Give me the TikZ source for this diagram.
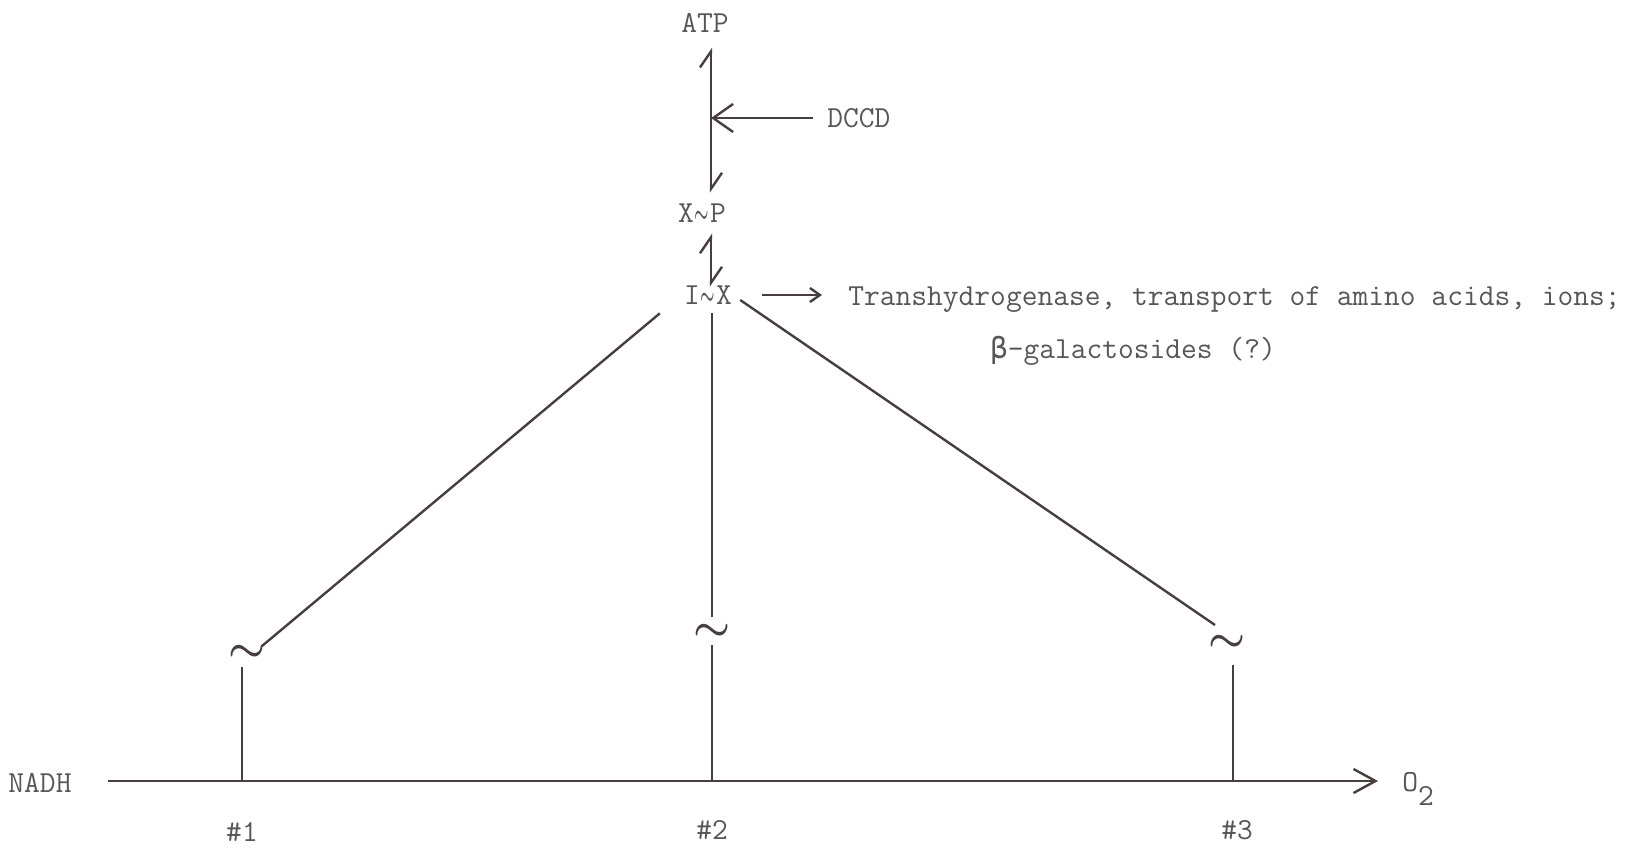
\documentclass[tikz,border=0pt]{standalone}
\usepackage{amsmath,bm}
\usepackage{fontspec}
\newfontfamily\grk{DejaVu Sans Mono}
\usetikzlibrary{arrows.meta,calc}
\definecolor{ink}{RGB}{72,62,62}
\definecolor{txt}{RGB}{90,86,86}
\newcommand\tild{\makebox[0.525em]{\scalebox{0.56}[1]{$\boldsymbol{\sim}$}}}
\begin{document}
\begin{tikzpicture}[x=0.5pt,y=-0.5pt,
  lbl/.style={inner sep=0pt, text=txt, font=\fontsize{15.3}{18}\selectfont\ttfamily},
  ln/.style={draw=ink, line width=1.2pt},
  tld/.style={inner sep=0pt, text=ink, font=\fontsize{20}{20}\selectfont},
  harp/.style={ln, {Straight Barb[left,length=8pt,width=11pt]}-{Straight Barb[left,length=8pt,width=11pt]}},
]
\fill[white] (0,0) rectangle (1648,847);
\useasboundingbox (0,0) rectangle (1648,847);
\coordinate (spine) at (711,0);
\coordinate (base) at (0,781);
% labels
\node[lbl] (atp) at (705,23) {ATP};
\node[lbl] (xp) at (702,213) {X\tild P};
\node[lbl] (ix) at (708,295) {I\tild X};
\node[lbl, anchor=west] (dccd) at (827,118) {DCCD};
\node[lbl, anchor=base west] (trans) at (848,305) {Transhydrogenase, transport of amino acids, ions;};
\node[lbl, anchor=base west] (gal) at (990,358) {{\grk\fontsize{14.5}{18}\selectfont β}-galactosides (?)};
\node[lbl] (nadh) at (40,783) {NADH};
\node[lbl, anchor=base west] (o2) at (1402,791) {O\raisebox{-7pt}{2}};
\node[lbl] (n1) at (242,832) {\#1};
\node[lbl] (n2) at (712,830) {\#2};
\node[lbl] (n3) at (1237,830) {\#3};
% tildes
\node[tld] (t1) at (247,653) {$\boldsymbol{\sim}$};
\node[tld] (t2) at (712,632) {$\boldsymbol{\sim}$};
\node[tld] (t3) at (1227,643) {$\boldsymbol{\sim}$};
% harpoons
\draw[harp] ([yshift=5.3pt]xp.north -| spine) -- ([yshift=-7.3pt]atp.south -| spine);
\draw[harp] ([yshift=-0.7pt]ix.north -| spine) -- ([yshift=-5.3pt]xp.south -| spine);
% DCCD inhibition arrow
\draw[ln, -{Straight Barb[length=10pt,width=14pt]}, shorten <=7pt] (dccd.west) -- (dccd.west -| spine);
% arrow to transhydrogenase
\draw[ln, -{Straight Barb[length=5pt,width=7pt]}, shorten <=15pt, shorten >=13pt] (ix.east) -- (ix.east -| trans.west);
% branches from I~X
\draw[ln] ([shift={(-12pt,-4.3pt)}]ix.south west) -- ([shift={(7.5pt,3.5pt)}]t1.center);
\draw[ln] ([shift={(4pt,-2.5pt)}]ix.east) -- ([shift={(-6pt,9pt)}]t3.center);
\draw[ln] ([yshift=-4.3pt]ix.south -| n2) -- ([yshift=7.5pt]n2 |- t2);
% verticals
\draw[ln] (n1 |- base) -- ([yshift=-7pt]n1 |- t1);
\draw[ln] (n2 |- base) -- ([yshift=-6.5pt]n2 |- t2);
\draw[ln] ([xshift=-2pt]n3 |- base) -- ([xshift=-2pt,yshift=-11pt]n3 |- t3);
% main chain
\draw[ln, -{Straight Barb[length=11pt,width=12pt]}] ([xshift=18pt]nadh.east |- base) -- ([xshift=-12pt]o2.west |- base);
\end{tikzpicture}
\end{document}
